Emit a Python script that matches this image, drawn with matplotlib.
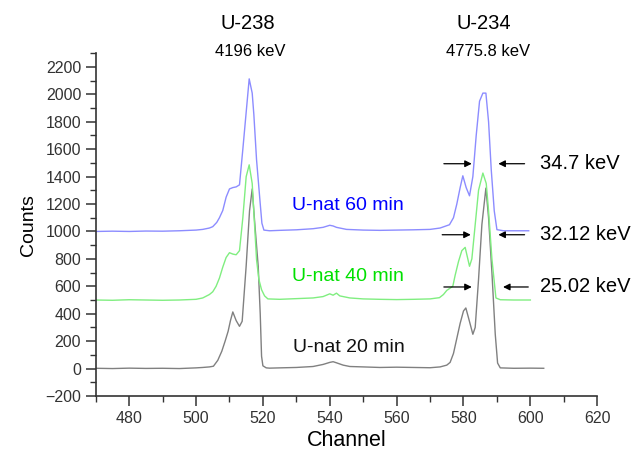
from matplotlib import pyplot as plt
import numpy as np

plt.rcParams['font.family'] = ['Liberation Sans', 'DejaVu Sans']

# Spectrum data (channel, counts)
ch_20 = [470, 475, 480, 485, 490, 495, 500, 502, 504, 505.2, 506.5, 507.7, 508.7, 509.6, 510.3, 511, 512, 513, 513.8,
         515, 516, 516.8, 517.6, 518.6, 519.2, 519.6, 520, 521, 522, 525, 530, 535, 538, 540, 541, 542, 544, 546,
         550, 555, 560, 565, 570, 573, 575, 576, 577, 578, 579, 580, 580.7, 581.5, 582.8, 583.5, 584.5,
         585.5, 586.7, 587.5, 588.5, 589.5, 590.2, 591, 595, 600, 604]
counts_20 = [2, 0, 3, 1, 2, 0, 5, 8, 12, 17, 60, 126, 200, 272, 350, 413, 350, 308, 345,
             750, 1150, 1310, 1050, 745, 400, 90, 20, 5, 3, 5, 8, 15, 30, 45, 50, 42, 25, 15,
             12, 8, 10, 8, 6, 12, 25, 45, 110, 220, 330, 420, 442, 370, 250, 300, 650,
             1050, 1316, 1100, 700, 250, 40, 5, 2, 3, 2]

ch_40 = [470, 475, 480, 485, 490, 495, 500, 502, 504, 505, 506, 507, 508, 509, 510, 511, 512, 513, 514,
         515, 515.9, 516.8, 517.5, 518.1, 518.8, 519.6, 520.5, 521.5, 525, 530, 535, 538, 540, 541, 542, 543, 546,
         550, 555, 560, 565, 570, 572.8, 574, 575, 576.8, 577.5, 578.5, 579.5, 580.5, 581.8, 582.5,
         583.5, 584.5, 585.8, 586.8, 587.5, 588.5, 589.7, 591, 595, 600]
counts_40 = [500, 498, 502, 500, 498, 500, 505, 515, 540, 560, 600, 660, 740, 810, 845, 835, 830, 860, 1100,
             1400, 1486, 1350, 1050, 794, 650, 575, 530, 508, 505, 510, 515, 525, 545, 535, 550, 530, 515,
             508, 505, 503, 505, 508, 517, 540, 570, 600, 680, 780, 860, 884, 746, 800,
             1050, 1300, 1426, 1350, 1150, 800, 515, 502, 500, 500]

ch_60 = [470, 475, 480, 485, 490, 495, 500, 502, 504, 505, 506.2, 507, 508, 509, 510, 511, 512, 513, 514,
         515, 515.9, 516.8, 517.3, 518.1, 519.1, 519.7, 520.3, 522, 525, 530, 535, 538, 540, 541, 542, 545,
         550, 555, 560, 565, 570, 573, 575.8, 577, 578, 579, 579.8, 580.8, 581.8, 582.8, 583.8,
         584.8, 585.8, 586.7, 587.5, 588.3, 589.2, 590, 592, 595, 599.5]
counts_60 = [1000, 1002, 1000, 1003, 1002, 1005, 1010, 1015, 1025, 1035, 1066, 1100, 1153, 1250, 1310, 1320, 1325, 1340, 1600,
             1870, 2113, 2009, 1850, 1523, 1231, 1060, 1010, 1005, 1008, 1012, 1020, 1030, 1045, 1040, 1030, 1015,
             1010, 1008, 1010, 1012, 1015, 1025, 1049, 1100, 1200, 1320, 1406, 1320, 1260, 1400, 1700,
             1950, 2009, 2009, 1800, 1450, 1150, 1013, 1005, 1005, 1005]

# FWHM annotations: y level, left arrow (tail, head), right arrow (head, tail), label
fwhm_y = [1494, 976, 595]
fwhm_left = [(573.3, 583.3), (572.8, 583.0), (573.3, 583.3)]
fwhm_right = [(589.6, 599.1), (589.6, 599.1), (591.0, 600.2)]
fwhm_labels = ['34.7 keV', '32.12 keV', '25.02 keV']

fig = plt.figure(figsize=(6.34, 4.51), dpi=100)
ax = fig.add_axes([0.151, 0.122, 0.791, 0.760])

ax.plot(ch_20, counts_20, color='#808080', lw=1)
ax.plot(ch_40, counts_40, color='#80ee80', lw=1)
ax.plot(ch_60, counts_60, color='#8c8cff', lw=1)

# series labels
ax.text(528.7, 1188, 'U-nat 60 min', color='#0000ff', fontsize=14, va='center')
ax.text(528.7, 672, 'U-nat 40 min', color='#00e000', fontsize=14, va='center')
ax.text(529.0, 151, 'U-nat 20 min', color='#111111', fontsize=14, va='center')

# isotope labels
ax.text(515.6, 2514, 'U-238', fontsize=14.5, ha='center', va='center')
ax.text(516.3, 2312, '4196 keV', fontsize=12, ha='center', va='center')
ax.text(586.1, 2514, 'U-234', fontsize=14.5, ha='center', va='center')
ax.text(587.3, 2312, '4775.8 keV', fontsize=12, ha='center', va='center')

arrow = dict(arrowstyle='-|>', color='k', lw=0.9, mutation_scale=10)
for y, (l0, l1), (r1, r0), lab in zip(fwhm_y, fwhm_left, fwhm_right, fwhm_labels):
    ax.annotate('', xy=(l1, y), xytext=(l0, y), arrowprops=arrow, annotation_clip=False)
    ax.annotate('', xy=(r1, y), xytext=(r0, y), arrowprops=arrow, annotation_clip=False)
    ax.text(602.8, y, lab, fontsize=14.5, va='center', clip_on=False)

ax.set_xlim(470, 620)
ax.set_ylim(-200, 2300)
ax.set_xticks(np.arange(480, 621, 20))
ax.set_xticks(np.arange(470, 621, 10), minor=True)
ax.set_yticks(np.arange(-200, 2201, 200))
ax.set_yticks(np.arange(-200, 2301, 100), minor=True)

for s in ['top', 'right']:
    ax.spines[s].set_visible(False)
for s in ['left', 'bottom']:
    ax.spines[s].set_linewidth(1.2)
    ax.spines[s].set_color('#333333')
ax.tick_params(which='major', length=7, width=1.1, colors='#333333', labelsize=11.5)
ax.tick_params(which='minor', length=4, width=1.0, colors='#333333')

ax.set_xlabel('Channel', fontsize=15.5, labelpad=3)
ax.set_ylabel('Counts', fontsize=14, labelpad=6)

plt.savefig('out.png', dpi=100)
